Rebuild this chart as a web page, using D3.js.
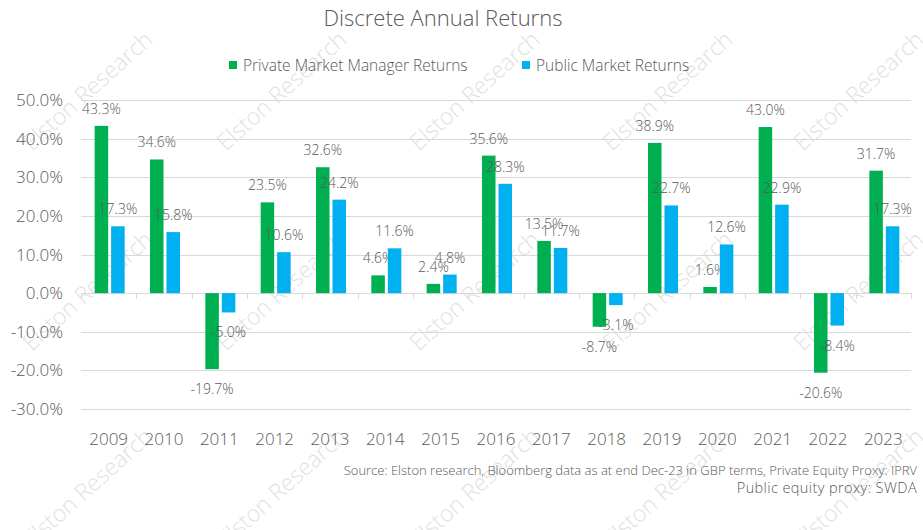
<!DOCTYPE html>
<meta charset="utf-8">
<style>
    body { margin: 0; background: #fff; }
    svg { font-family: "Open Sans", "DejaVu Sans", sans-serif; font-weight: 300; }
    .grid line { stroke: #d9d9d9; stroke-width: 1; }
    .label { fill: #595959; font-size: 14px; }
    .tick-y { fill: #595959; font-size: 17px; }
    .tick-x { fill: #595959; font-size: 17px; }
    .mark { fill: #e2e2e2; font-size: 23px; }
</style>
<body>
<svg></svg>
</body>
<script src="https://d3js.org/d3.v7.min.js"></script>
<script>
    var years = ["2009", "2010", "2011", "2012", "2013", "2014", "2015", "2016",
                 "2017", "2018", "2019", "2020", "2021", "2022", "2023"];
    var privateReturns = [43.3, 34.6, -19.7, 23.5, 32.6, 4.6, 2.4, 35.6, 13.5, -8.7, 38.9, 1.6, 43.0, -20.6, 31.7];
    var publicReturns = [17.3, 15.8, -5.0, 10.6, 24.2, 11.6, 4.8, 28.3, 11.7, -3.1, 22.7, 12.6, 22.9, -8.4, 17.3];
    var yTicks = [-30, -20, -10, 0, 10, 20, 30, 40, 50];
    var seriesNames = ["Private Market Manager Returns", "Public Market Returns"];
    var colors = ["#00b050", "#00b0f0"];
    var sourceLines = ["Source: Elston research, Bloomberg data as at end Dec-23 in GBP terms,  Private Equity Proxy: IPRV",
                       "Public equity proxy: SWDA"];

    var width = 923, height = 530;
    var margin = {top: 100, right: 12, bottom: 121, left: 81};

    var svg = d3.select("svg")
        .attr("width", width)
        .attr("height", height);

    // watermark underneath everything
    var markXs = [87, 281, 474, 667, 858];
    var markYs = [90, 290, 487];
    var marks = svg.append("g");
    markYs.forEach(function (my) {
        markXs.forEach(function (mx) {
            marks.append("text")
                .attr("class", "mark")
                .attr("text-anchor", "middle")
                .attr("dominant-baseline", "central")
                .attr("transform", "translate(" + mx + "," + my + ") rotate(-42)")
                .text("Elston Research");
        });
    });

    var x = d3.scaleBand()
        .domain(years)
        .range([margin.left, width - margin.right]);

    var x1 = d3.scaleBand()
        .domain([0, 1])
        .range([0, 30])
        .paddingInner(0.18);

    var y = d3.scaleLinear()
        .domain([-30, 50])
        .range([height - margin.bottom, margin.top]);

    // gridlines
    svg.append("g")
        .attr("class", "grid")
        .selectAll("line")
        .data(yTicks)
        .enter().append("line")
        .attr("x1", margin.left)
        .attr("x2", width - margin.right)
        .attr("y1", function (d) { return Math.round(y(d)) + 0.5; })
        .attr("y2", function (d) { return Math.round(y(d)) + 0.5; });

    // ticks at category boundaries on the zero line
    svg.append("g")
        .attr("class", "grid")
        .selectAll("line")
        .data(years.concat(["end"]))
        .enter().append("line")
        .attr("x1", function (d, i) { return Math.round(margin.left + i * x.step()) + 0.5; })
        .attr("x2", function (d, i) { return Math.round(margin.left + i * x.step()) + 0.5; })
        .attr("y1", Math.round(y(0)))
        .attr("y2", Math.round(y(0)) + 6);

    svg.append("g")
        .selectAll("text")
        .data(yTicks)
        .enter().append("text")
        .attr("class", "tick-y")
        .attr("x", 63)
        .attr("y", function (d) { return y(d) + 6; })
        .attr("text-anchor", "end")
        .text(function (d) { return d.toFixed(1) + "%"; });

    svg.append("g")
        .selectAll("text")
        .data(years)
        .enter().append("text")
        .attr("class", "tick-x")
        .attr("x", function (d) { return x(d) + x.bandwidth() / 2; })
        .attr("y", 445)
        .attr("text-anchor", "middle")
        .text(function (d) { return d; });

    // bars
    var series = [privateReturns, publicReturns];
    series.forEach(function (vals, s) {
        var g = svg.append("g");
        var offset = (x.bandwidth() - x1.range()[1]) / 2 + 1;
        g.selectAll("rect")
            .data(vals)
            .enter().append("rect")
            .attr("x", function (d, i) { return x(years[i]) + offset + x1(s); })
            .attr("width", x1.bandwidth())
            .attr("y", function (d) { return y(Math.max(0, d)); })
            .attr("height", function (d) { return Math.abs(y(d) - y(0)); })
            .attr("fill", colors[s]);

        g.selectAll("text")
            .data(vals)
            .enter().append("text")
            .attr("class", "label")
            .attr("x", function (d, i) { return x(years[i]) + offset + x1(s) + x1.bandwidth() / 2; })
            .attr("y", function (d) { return d >= 0 ? y(d) - 12 : y(d) + 25; })
            .attr("text-anchor", "middle")
            .text(function (d) { return d.toFixed(1) + "%"; });
    });

    // title
    svg.append("text")
        .attr("x", 443)
        .attr("y", 26)
        .attr("text-anchor", "middle")
        .attr("fill", "#595959")
        .style("font-size", "22px")
        .text("Discrete Annual Returns");

    // legend
    var legendX = [229, 522];
    seriesNames.forEach(function (name, i) {
        svg.append("rect")
            .attr("x", legendX[i])
            .attr("y", 61)
            .attr("width", 8)
            .attr("height", 8)
            .attr("fill", colors[i]);
        svg.append("text")
            .attr("x", legendX[i] + 14)
            .attr("y", 71)
            .attr("fill", "#595959")
            .style("font-size", "15.5px")
            .text(name);
    });

    // source
    svg.append("g")
        .selectAll("text")
        .data(sourceLines)
        .enter().append("text")
        .attr("x", 917)
        .attr("y", function (d, i) { return 475 + i * 18; })
        .attr("text-anchor", "end")
        .attr("fill", "#595959")
        .style("font-size", function (d, i) { return i === 1 ? "14.5px" : "13px"; })
        .style("letter-spacing", function (d, i) { return i === 1 ? "0.4px" : null; })
        .text(function (d) { return d; });
</script>
</html>
